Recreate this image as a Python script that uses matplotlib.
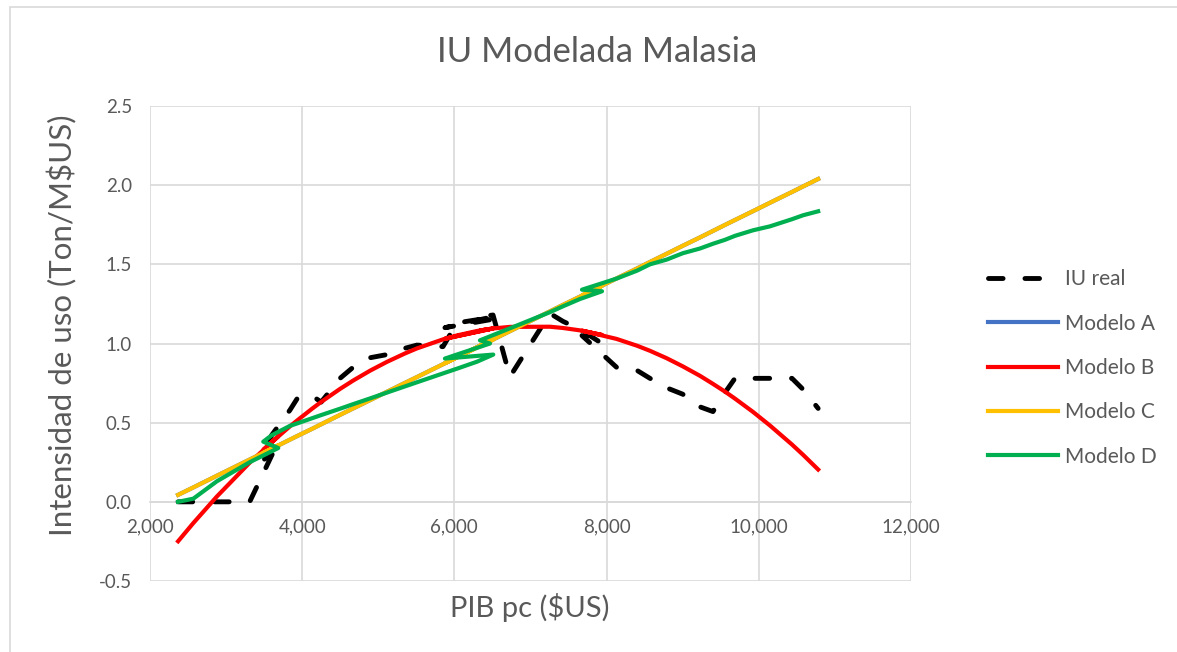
import matplotlib
matplotlib.use("Agg")
import matplotlib.pyplot as plt
from matplotlib.patches import Rectangle
from matplotlib.ticker import FuncFormatter

plt.rcParams['font.family'] = ['Lato', 'DejaVu Sans']

# PIB per capita (orden temporal, con retrocesos)
pib_pc = [2370, 2570, 2880, 3310, 3686, 3489, 3598, 3840, 3945, 4130,
          4250, 4497, 4670, 4891, 5114, 5350, 5508, 5850, 6034, 6297,
          6511, 5876, 6468, 6336, 6508, 6730, 7256, 7427, 7650, 7940,
          7677, 8131, 8400, 8570, 8790, 9000, 9227, 9398, 9556, 9687,
          9924, 10147, 10436, 10582, 10780]

iu_real = [0.00, 0.00, 0.00, 0.00, 0.38, 0.26, 0.42, 0.58, 0.66, 0.67,
           0.63, 0.78, 0.85, 0.91, 0.93, 0.97, 0.99, 0.98, 1.13, 1.15,
           1.17, 1.10, 1.15, 1.17, 1.18, 0.79, 1.19, 1.14, 1.09, 1.00,
           1.05, 0.85, 0.83, 0.78, 0.72, 0.68, 0.60, 0.57, 0.69, 0.78,
           0.78, 0.78, 0.78, 0.71, 0.59]

modelo_b = [-0.249, -0.134, 0.034, 0.247, 0.414, 0.328, 0.376, 0.477, 0.518, 0.588,
            0.631, 0.713, 0.766, 0.828, 0.884, 0.937, 0.969, 1.026, 1.051, 1.079,
            1.095, 1.030, 1.092, 1.082, 1.095, 1.105, 1.106, 1.098, 1.083, 1.054,
            1.081, 1.029, 0.986, 0.954, 0.907, 0.856, 0.796, 0.745, 0.696, 0.652,
            0.568, 0.482, 0.362, 0.297, 0.204]

modelo_c = [0.044, 0.091, 0.165, 0.267, 0.356, 0.309, 0.335, 0.393, 0.418, 0.461,
            0.490, 0.549, 0.590, 0.642, 0.695, 0.751, 0.788, 0.869, 0.913, 0.975,
            1.026, 0.876, 1.016, 0.985, 1.025, 1.078, 1.203, 1.244, 1.296, 1.365,
            1.303, 1.411, 1.474, 1.515, 1.567, 1.617, 1.670, 1.711, 1.749, 1.780,
            1.836, 1.889, 1.957, 1.992, 2.039]

# Modelo A queda oculto bajo Modelo C
modelo_a = list(modelo_c)

modelo_d = [0.00, 0.02, 0.13, 0.25, 0.34, 0.38, 0.42, 0.48, 0.497, 0.528,
            0.548, 0.588, 0.617, 0.653, 0.690, 0.729, 0.755, 0.811, 0.841, 0.885,
            0.93, 0.905, 1.00, 1.02, 1.053, 1.096, 1.198, 1.235, 1.281, 1.33,
            1.34, 1.41, 1.46, 1.50, 1.53, 1.57, 1.60, 1.63, 1.655, 1.68,
            1.715, 1.74, 1.785, 1.81, 1.835]

x_ticks = [2000, 4000, 6000, 8000, 10000, 12000]
y_ticks = [-0.5, 0.0, 0.5, 1.0, 1.5, 2.0, 2.5]

gris = '#595959'
grid = '#d9d9d9'

fig = plt.figure(figsize=(11.77, 6.52), dpi=100)
ax = fig.add_axes([0.1274, 0.1089, 0.6466, 0.7285])

ax.plot(pib_pc, iu_real, color='black', lw=3.5, dashes=(3.0, 4.5),
        dash_capstyle='round', label='IU real', zorder=3)
ax.plot(pib_pc, modelo_a, color='#4472C4', lw=3.0, label='Modelo A', zorder=2)
ax.plot(pib_pc, modelo_b, color='#FF0000', lw=3.0, label='Modelo B', zorder=4)
ax.plot(pib_pc, modelo_c, color='#FFC000', lw=3.0, label='Modelo C', zorder=5)
ax.plot(pib_pc, modelo_d, color='#00B050', lw=3.0, label='Modelo D', zorder=6)

ax.set_xlim(2000, 12000)
ax.set_ylim(-0.5, 2.5)
ax.set_xticks(x_ticks)
ax.set_yticks(y_ticks)
ax.xaxis.set_major_formatter(FuncFormatter(lambda v, p: f"{v:,.0f}"))
ax.yaxis.set_major_formatter(FuncFormatter(lambda v, p: f"{v:.1f}"))
ax.grid(True, color=grid, lw=1.2, zorder=0)
ax.set_axisbelow(True)
for s in ['left', 'right', 'top']:
    ax.spines[s].set_visible(False)
ax.spines['bottom'].set_position(('data', 0))
ax.spines['bottom'].set_color(grid)
ax.spines['bottom'].set_linewidth(1.2)
ax.tick_params(axis='both', length=0, labelsize=13.5, colors=gris)
ax.tick_params(axis='y', pad=13)
ax.tick_params(axis='x', pad=12)

fig.text(0.507, 0.920, 'IU Modelada Malasia', ha='center', va='center',
         fontsize=25, color=gris)
fig.text(0.0527, 0.5015, 'Intensidad de uso (Ton/M$US)', ha='center', va='center',
         rotation=90, fontsize=22.5, color=gris)
fig.text(0.4503, 0.069, 'PIB pc ($US)', ha='center', va='center',
         fontsize=21, color=gris)

ax.legend(loc='upper left', bbox_to_anchor=(0.832, 0.600), bbox_transform=fig.transFigure,
          frameon=False, fontsize=15, handlelength=3.4, handletextpad=0.3,
          labelspacing=1.17, labelcolor=gris, borderaxespad=0)

fig.patches.append(Rectangle((0.0085, -0.01), 1.0, 0.999, transform=fig.transFigure,
                             fill=False, ec=grid, lw=1.2))

fig.savefig('out.png', dpi=100)
